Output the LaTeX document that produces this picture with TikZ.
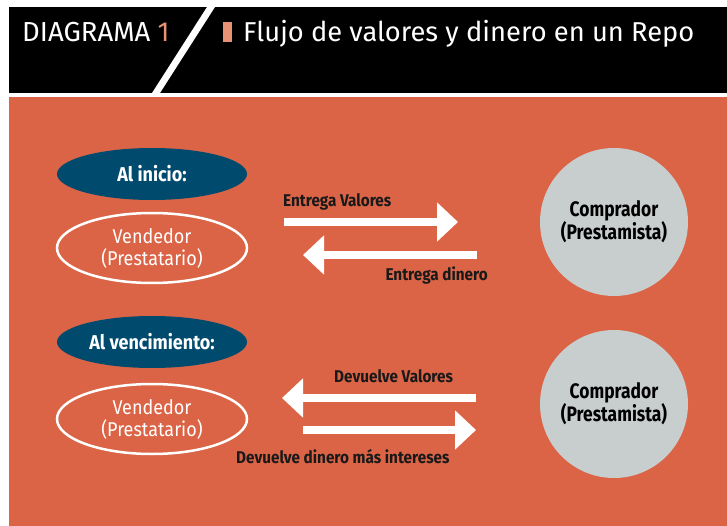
\documentclass[tikz,border=0pt]{standalone}
\usepackage{fontspec}
\usepackage{tikz}
\usetikzlibrary{shapes.geometric,arrows.meta}
\setmainfont{Fira Sans}
\newfontfamily\headfont{Fira Sans}
\newfontfamily\bodyfont[FakeStretch=0.9]{Fira Sans}
\newfontfamily\narrowfont[FakeStretch=0.83]{Fira Sans}
\definecolor{panelorange}{RGB}{219,100,70}
\definecolor{accentorange}{RGB}{231,146,116}
\definecolor{tagblue}{RGB}{0,74,110}
\definecolor{partygrey}{RGB}{200,205,205}

\tikzset{
  tag/.style={ellipse,fill=tagblue,minimum width=190pt,minimum height=52pt,inner sep=0pt,
    text=white,font=\bodyfont\bfseries\fontsize{20}{22}\selectfont},
  seller/.style={ellipse,draw=white,line width=2.5pt,minimum width=190pt,minimum height=70pt,
    inner sep=0pt,text=white,align=center,font=\bodyfont\fontsize{20}{22}\selectfont},
  buyer/.style={circle,fill=partygrey,minimum size=148pt,inner sep=0pt,align=center,
    font=\narrowfont\bfseries\fontsize{21}{23}\selectfont},
  flow/.style={white,line width=8.5pt,-{Triangle[width=38pt,length=21pt]}},
  flowlabel/.style={inner sep=0pt,text=black!90,font=\bodyfont\bfseries\fontsize{17}{19}\selectfont},
}

\begin{document}
\begin{tikzpicture}[x=1pt,y=-1pt]
    % Define parameters
    \def\left{152}
    \def\right{614}
    \useasboundingbox (0,0) rectangle (727,526);
    \fill[white] (0,0) rectangle (727,526);

% Header band
    \fill[black] (9,7) rectangle (727,93);
    \fill[white] (207,7) -- (215,7) -- (160,93) -- (152,93) -- cycle;
    \node[anchor=base west,inner sep=0pt,text=white,font=\headfont\fontsize{27.5}{30}\selectfont]
        (diag) at (22,42) {DIAGRAMA \textcolor{accentorange}{1}};
    \fill[accentorange] (223,22) rectangle (232,42);
    \node[anchor=base west,inner sep=0pt,text=white,font=\headfont\fontsize{27.3}{30}\selectfont]
        (title) at (243,42) {Flujo de valores y dinero en un Repo};

% Orange panel
    \fill[panelorange] (9,97) rectangle (727,526);

% Al inicio
    \node[tag] (inicio) at (\left,174) {Al inicio:};
    \node[seller] (vend1) at (\left,248) {Vendedor\\(Prestatario)};
    \node[buyer] (comp1) at (\right,222) {Comprador\\(Prestamista)};

    \coordinate (entVa) at (284,222);
    \coordinate (entVb) at (458,222);
    \coordinate (entDa) at (477,255);
    \coordinate (entDb) at (303,255);
    \draw[flow] (entVa) -- (entVb);
    \draw[flow] (entDa) -- (entDb);
    \node[flowlabel,anchor=base west] (lblEntV) at (283,207) {Entrega Valores};
    \node[flowlabel,anchor=base east] (lblEntD) at (488,280) {Entrega dinero};

% Al vencimiento
    \node[tag] (vencim) at (\left,342) {Al vencimiento:};
    \node[seller] (vend2) at (\left,419) {Vendedor\\(Prestatario)};
    \node[buyer] (comp2) at (\right,404) {Comprador\\(Prestamista)};

    \coordinate (devVa) at (476,398);
    \coordinate (devVb) at (282,398);
    \coordinate (devDa) at (303,430);
    \coordinate (devDb) at (476,430);
    \draw[flow] (devVa) -- (devVb);
    \draw[flow] (devDa) -- (devDb);
    \node[flowlabel,anchor=base west] (lblDevV) at (334,382) {Devuelve Valores};
    \node[flowlabel,anchor=base west] (lblDevD) at (236,463) {Devuelve dinero más intereses};

\end{tikzpicture}
\end{document}
